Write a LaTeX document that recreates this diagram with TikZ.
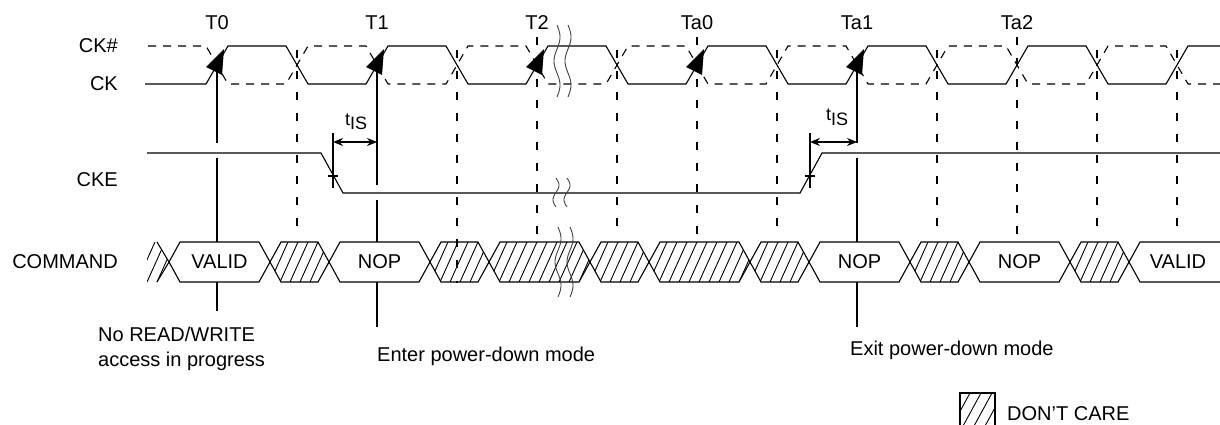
\documentclass[tikz,border=0pt]{standalone}
\usepackage{fontspec}
\setmainfont{Liberation Sans}
\usetikzlibrary{arrows.meta}
\newcommand{\hexpath}[2]{(#1,262) -- (#1+11,242) -- (#2-11,242) -- (#2,262) -- (#2-11,282) -- (#1+11,282) -- cycle}
\newcommand{\hatchcell}[2]{%
  \fill[white] \hexpath{#1}{#2};
  \begin{scope}
    \clip \hexpath{#1}{#2};
    \foreach \hx in {-20,-10,...,110} {\draw[hatchline] (#1+\hx,282) -- ++(18,-40);}
  \end{scope}
  \draw[busline] \hexpath{#1}{#2};}
\newcommand{\textcell}[4]{%
  \draw[busline,fill=white] \hexpath{#1}{#2};
  \node[lbl,anchor=base] (#4) at ({(#1+#2)/2},268) {#3};}
\newcommand{\brkwave}[4]{\draw[brk] plot[domain=0:1,samples=40,smooth] ({#1+3*sin(#4*\x)},{#2+(#3-#2)*\x});}
\begin{document}
\begin{tikzpicture}[x=1pt,y=-1pt,
  sig/.style={line width=1.1pt, line join=miter},
  hdash/.style={line width=1.1pt, dash pattern=on 8pt off 7pt},
  vdash/.style={line width=1.1pt, dash pattern=on 8pt off 13pt},
  tline/.style={line width=1.1pt},
  busline/.style={line width=1.1pt, line join=miter},
  hatchline/.style={line width=0.9pt},
  brk/.style={line width=0.9pt, black!75},
  lbl/.style={inner sep=0pt, font=\fontsize{20}{24}\selectfont},
  tis/.style={inner sep=0pt, font=\fontsize{18}{20}\selectfont},
  dimarrow/.style={line width=1.1pt, {Stealth[length=10pt,width=8pt]}-{Stealth[length=10pt,width=8pt]}}
]
\useasboundingbox (0,0) rectangle (1220,425);

% signal names
\node[lbl, anchor=base east] (lckn) at (118,53) {CK\#};
\node[lbl, anchor=base east] (lck) at (118,91) {CK};
\node[lbl, anchor=base east] (lcke) at (118,186) {CKE};
\node[lbl, anchor=base east] (lcmd) at (118,268) {COMMAND};

% clock labels
\foreach \n/\x in {T0/217, T1/377, T2/537, Ta0/697, Ta1/857, Ta2/1017}
  \node[lbl, anchor=base] (\n) at (\x,30) {\n};

% dashed reference lines
\foreach \x in {297,617,777,937,1097,1177} \draw[vdash] (\x,50) -- (\x,227);
\foreach \x in {537,697,1017} \draw[vdash] (\x,37) -- (\x,235);

% solid reference lines
\draw[tline] (217,72) -- (217,143); \draw[tline] (217,158) -- (217,311);
\draw[tline] (377,72) -- (377,185); \draw[tline] (377,200) -- (377,327);
\draw[tline] (857,72) -- (857,143); \draw[tline] (857,158) -- (857,327);

% clocks
\draw[sig] (145,84) -- (206,84) -- (228,46) -- (286,46) -- (308,84) -- (366,84) -- (388,46) -- (446,46) -- (468,84) -- (526,84) -- (548,46) -- (606,46) -- (628,84) -- (686,84) -- (708,46) -- (766,46) -- (788,84) -- (846,84) -- (868,46) -- (926,46) -- (948,84) -- (1006,84) -- (1028,46) -- (1086,46) -- (1108,84) -- (1166,84) -- (1188,46) -- (1220,46);
\draw[hdash] (148,46) -- (206,46) -- (228,84) -- (286,84) -- (308,46) -- (366,46) -- (388,84) -- (446,84) -- (468,46) -- (526,46) -- (548,84) -- (606,84) -- (628,46) -- (686,46) -- (708,84) -- (766,84) -- (788,46) -- (846,46) -- (868,84) -- (926,84) -- (948,46) -- (1006,46) -- (1028,84) -- (1086,84) -- (1108,46) -- (1166,46) -- (1188,84) -- (1220,84);

% edge arrows
\foreach \x in {217,377,537,697,857}
  \fill (\x+7,49) -- (\x-11,67) -- (\x+5,75) -- cycle;

% CKE
\draw[sig] (147,153) -- (321,153) -- (343,193) -- (800,193) -- (822,153) -- (1220,153);
\draw[tline] (333,133) -- (333,188); \draw[tline] (328,176) -- (338,176);
\draw[tline] (810,133) -- (810,188); \draw[tline] (805,176) -- (815,176);
\draw[dimarrow] (333,142) -- (377,142);
\draw[dimarrow] (810,142) -- (857,142);
\node[tis, anchor=base] (tis1) at (356,130) {\raisebox{5pt}{t}IS};
\node[tis, anchor=base] (tis2) at (837,125) {\raisebox{5pt}{t}IS};

% command bus
\begin{scope}
  \clip (147,230) rectangle (1220,300);
  \begin{scope}
    \clip (147,242) -- (157,242) -- (169,262) -- (157,282) -- (147,282) -- cycle;
    \foreach \hx in {-20,-10,...,30} {\draw[hatchline] (137+\hx,282) -- ++(18,-40);}
  \end{scope}
  \draw[busline] (157,242) -- (169,262) -- (157,282);
  \textcell{169}{270}{VALID}{c1}
  \hatchcell{270}{329}
  \textcell{329}{430}{NOP}{c2}
  \hatchcell{430}{489}
  \hatchcell{489}{590}
  \hatchcell{590}{649}
  \hatchcell{649}{750}
  \hatchcell{750}{809}
  \textcell{809}{910}{NOP}{c3}
  \hatchcell{910}{969}
  \textcell{969}{1070}{NOP}{c4}
  \hatchcell{1070}{1129}
  \draw[busline,fill=white] \hexpath{1129}{1260};
  \node[lbl,anchor=base] (c5) at (1178,268) {VALID};
\end{scope}
\draw[vdash] (457,50) -- (457,283);

% breaks
\brkwave{557}{25}{97}{540}
\brkwave{568}{25}{97}{540}
\brkwave{556}{178}{207}{360}
\brkwave{567}{178}{207}{360}
\brkwave{558}{227}{297}{540}
\brkwave{570}{227}{297}{540}

% annotations
\node[lbl, anchor=base west] (nrw1) at (98,341) {No READ/WRITE};
\node[lbl, anchor=base west] (nrw2) at (98,366) {access in progress};
\node[lbl, anchor=base west] (enter) at (377,361) {Enter power-down mode};
\node[lbl, anchor=base west] (exit) at (850,355) {Exit power-down mode};

% legend
\begin{scope}
  \clip (960,393) rectangle (995,426);
  \foreach \hx in {-30,-19,...,40} \draw[hatchline] (960+\hx,426) -- ++(18,-33);
\end{scope}
\draw[busline] (960,393) rectangle (995,426);
\node[lbl, anchor=base west] (dc) at (1007,420) {DON’T CARE};
\end{tikzpicture}
\end{document}
